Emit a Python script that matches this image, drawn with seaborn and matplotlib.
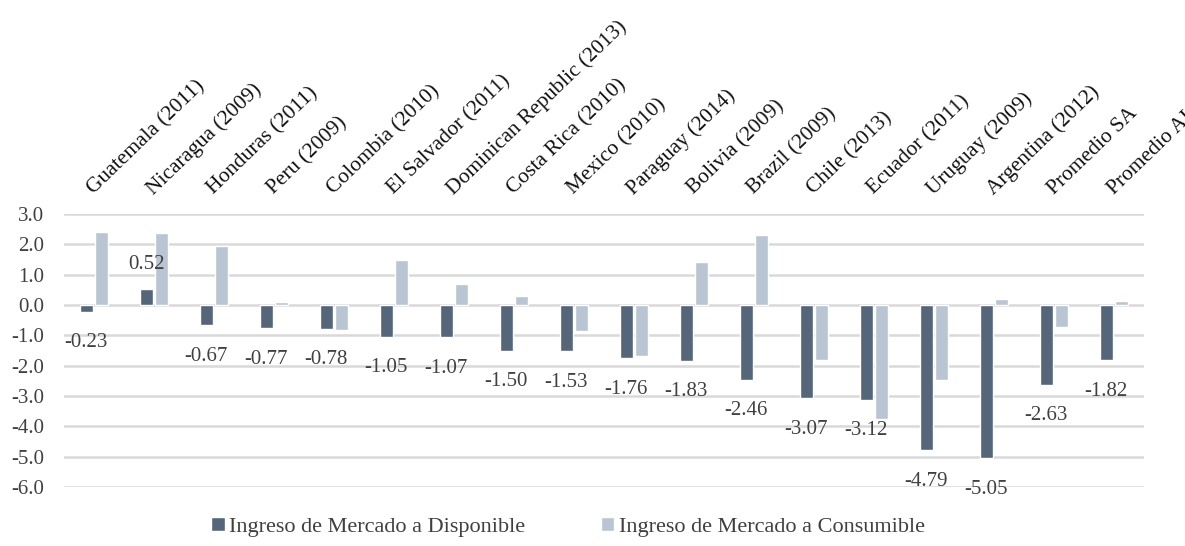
import matplotlib
matplotlib.use("Agg")
import matplotlib.pyplot as plt
import seaborn as sns
import pandas as pd
from matplotlib.patches import Patch

categories = ["Guatemala (2011)", "Nicaragua (2009)", "Honduras (2011)", "Peru (2009)",
              "Colombia (2010)", "El Salvador (2011)", "Dominican Republic (2013)",
              "Costa Rica (2010)", "Mexico (2010)", "Paraguay (2014)", "Bolivia (2009)",
              "Brazil (2009)", "Chile (2013)", "Ecuador (2011)", "Uruguay (2009)",
              "Argentina (2012)", "Promedio SA", "Promedio AL"]
disponible = [-0.23, 0.52, -0.67, -0.77, -0.78, -1.05, -1.07, -1.50, -1.53,
              -1.76, -1.83, -2.46, -3.07, -3.12, -4.79, -5.05, -2.63, -1.82]
consumible = [2.40, 2.38, 1.96, 0.11, -0.83, 1.48, 0.70, 0.30, -0.85,
              -1.68, 1.43, 2.32, -1.80, -3.76, -2.48, 0.20, -0.72, 0.12]
series_names = ["Ingreso de Mercado a Disponible", "Ingreso de Mercado a Consumible"]
yticks = [3.0, 2.0, 1.0, 0.0, -1.0, -2.0, -3.0, -4.0, -5.0, -6.0]

dark = "#55657A"
light = "#B9C5D3"
txt = "#404040"

df = pd.DataFrame({
    "cat": categories * 2,
    "val": disponible + consumible,
    "serie": [series_names[0]] * len(categories) + [series_names[1]] * len(categories),
})

sns.set_theme(style="white")
plt.rcParams["font.family"] = ["Liberation Serif", "DejaVu Serif"]

fig = plt.figure(figsize=(11.85, 5.46), dpi=100)
ax = fig.add_axes([64 / 1185, 1 - 487 / 546, (1144 - 64) / 1185, (487 - 214) / 546])

sns.barplot(data=df, x="cat", y="val", hue="serie", order=categories,
            hue_order=series_names, palette=[dark, light], width=0.51, gap=0.12,
            legend=False, ax=ax, saturation=1)

ax.set_ylim(-6.0, 3.0)
ax.set_xlim(-0.5, len(categories) - 0.5)
ax.set_yticks(yticks)
ax.set_yticklabels([f"{t:.1f}" for t in yticks], fontsize=15, color=txt)
ax.yaxis.grid(True, color="#D9D9D9", linewidth=1.8)
ax.set_axisbelow(True)
for s in ax.spines.values():
    s.set_visible(False)
ax.tick_params(axis="y", length=0, pad=14)
ax.set_xlabel("")
ax.set_ylabel("")

ax.xaxis.tick_top()
ax.tick_params(axis="x", length=0, pad=13.5)
ax.set_xticks(range(len(categories)))
ax.set_xticklabels(categories, rotation=44, ha="left", va="baseline",
                   rotation_mode="anchor", fontsize=15.5, color="#111111")

for p, v in zip(ax.containers[0], disponible):
    x = p.get_x() + p.get_width() / 2
    off = 25 if v >= 0 else -31
    ax.annotate(f"{v:.2f}", xy=(x, v), xytext=(0, off), textcoords="offset pixels",
                ha="center", va="center", fontsize=15, color=txt)

handles = [Patch(facecolor=dark, label=series_names[0]),
           Patch(facecolor=light, label=series_names[1])]
fig.legend(handles=handles, loc="center", bbox_to_anchor=(568 / 1185, 1 - 527 / 546),
           ncol=2, frameon=False, fontsize=16, handlelength=0.6, handleheight=0.6,
           handletextpad=0.2, columnspacing=3.4, labelcolor=txt)

fig.savefig("out.png", dpi=100)
